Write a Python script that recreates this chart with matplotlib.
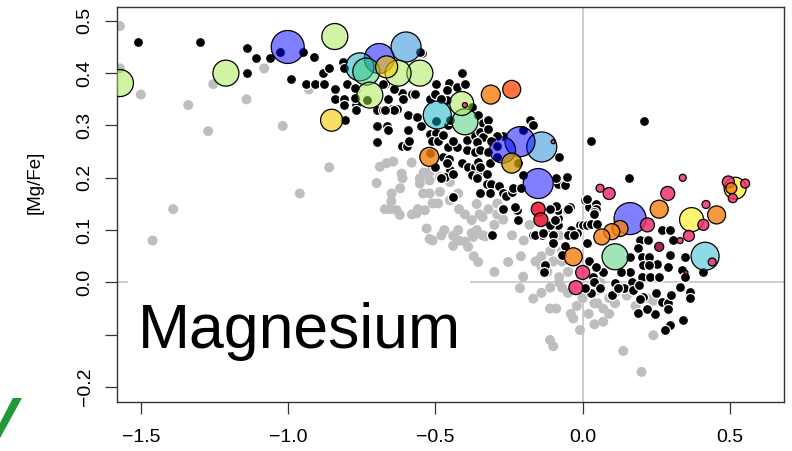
import numpy as np
import matplotlib.pyplot as plt

plt.rcParams['font.family'] = ['Liberation Sans', 'DejaVu Sans']

# --- data ---
gray_pts = [
    (-1.572, 0.490), (-1.572, 0.409), (-1.501, 0.359), (-1.340, 0.339), (-1.272, 0.289),
    (-1.255, 0.379), (-1.142, 0.350), (-1.082, 0.409), (-1.019, 0.299), (-0.930, 0.369),
    (-0.861, 0.220), (-0.961, 0.170), (-1.391, 0.140), (-1.461, 0.080),
    (-0.700, 0.190), (-0.672, 0.140), (-0.655, 0.140), (-0.689, 0.221), (-0.666, 0.228),
    (-0.644, 0.231), (-0.649, 0.170), (-0.650, 0.155), (-0.615, 0.208), (-0.620, 0.180),
    (-0.612, 0.199), (-0.581, 0.229), (-0.553, 0.199), (-0.553, 0.189), (-0.540, 0.210),
    (-0.542, 0.170), (-0.519, 0.211), (-0.520, 0.195), (-0.485, 0.202), (-0.451, 0.192),
    (-0.485, 0.173), (-0.520, 0.170), (-0.491, 0.151), (-0.510, 0.151), (-0.536, 0.138),
    (-0.564, 0.132), (-0.632, 0.138), (-0.621, 0.129), (-0.580, 0.130), (-0.560, 0.140),
    (-0.530, 0.103), (-0.520, 0.083), (-0.510, 0.080), (-0.480, 0.090), (-0.470, 0.100),
    (-0.440, 0.089), (-0.423, 0.100), (-0.451, 0.157), (-0.423, 0.170), (-0.440, 0.070),
    (-0.420, 0.080), (-0.400, 0.078), (-0.389, 0.068), (-0.377, 0.094), (-0.377, 0.119),
    (-0.360, 0.094), (-0.370, 0.050), (-0.355, 0.039), (-0.340, 0.090), (-0.300, 0.110),
    (-0.320, 0.140), (-0.270, 0.120), (-0.240, 0.090), (-0.200, 0.080), (-0.180, 0.110),
    (-0.253, 0.039), (-0.210, 0.050), (-0.202, 0.011), (-0.213, -0.011), (-0.168, -0.031),
    (-0.140, -0.020), (-0.110, -0.010), (-0.080, 0.000), (-0.111, -0.050), (-0.090, -0.050),
    (-0.032, -0.069), (-0.020, -0.045), (0.020, -0.060), (-0.009, -0.091), (0.040, -0.080),
    (-0.111, -0.110), (-0.100, -0.122), (-0.140, 0.030), (-0.100, 0.040), (-0.070, 0.040),
    (-0.050, 0.020), (-0.120, 0.020), (-0.080, 0.010), (-0.160, 0.040), (-0.140, 0.050),
    (-0.110, 0.060), (-0.050, -0.020), (0.010, -0.020), (-0.420, 0.140), (-0.400, 0.130),
    (-0.360, 0.100), (-0.330, 0.088), (-0.290, 0.130), (-0.350, 0.130), (-0.300, 0.020),
    (-0.070, -0.010), (-0.040, -0.060), (0.000, -0.030), (0.050, -0.040), (0.070, -0.050),
    (0.090, -0.030), (0.110, -0.020), (0.050, -0.015), (0.060, 0.000), (0.120, -0.005),
    (0.110, -0.040), (0.150, -0.025), (0.180, -0.045), (0.220, -0.030), (0.240, -0.035),
    (0.138, -0.131), (0.200, -0.171), (0.240, -0.101), (0.070, -0.075), (0.090, -0.060),
    (0.040, -0.040), (-0.080, 0.090), (-0.070, 0.060), (-0.030, 0.090), (-0.372, 0.087),
    (-0.340, 0.125), (-0.290, 0.151), (-0.360, 0.150),
]

black_pts = [
    (-1.510, 0.460), (-1.300, 0.460), (-1.142, 0.449), (-1.110, 0.428), (-1.142, 0.400),
    (-1.062, 0.428), (-1.028, 0.440), (-0.949, 0.440), (-0.912, 0.430), (-0.991, 0.389),
    (-0.940, 0.379), (-0.909, 0.380), (-0.879, 0.380), (-0.883, 0.400), (-0.861, 0.409),
    (-0.813, 0.422), (-0.810, 0.409), (-0.842, 0.369), (-0.841, 0.350), (-0.810, 0.350),
    (-0.810, 0.339), (-0.800, 0.380), (-0.771, 0.339), (-0.771, 0.369), (-0.770, 0.330),
    (-0.808, 0.310), (-0.700, 0.329), (-0.700, 0.299), (-0.700, 0.269), (-0.666, 0.299),
    (-0.661, 0.291), (-0.678, 0.329), (-0.663, 0.350), (-0.638, 0.329), (-0.672, 0.380),
    (-0.774, 0.371), (-0.774, 0.352), (-0.734, 0.349), (-0.649, 0.331), (-0.632, 0.331),
    (-0.661, 0.350), (-0.615, 0.363), (-0.610, 0.350), (-0.593, 0.320), (-0.564, 0.317),
    (-0.581, 0.361), (-0.593, 0.291), (-0.615, 0.261), (-0.598, 0.261), (-0.589, 0.271),
    (-0.550, 0.299), (-0.519, 0.284), (-0.498, 0.286), (-0.513, 0.271), (-0.490, 0.271),
    (-0.474, 0.282), (-0.457, 0.259), (-0.428, 0.259), (-0.440, 0.270), (-0.394, 0.272),
    (-0.394, 0.253), (-0.366, 0.250), (-0.366, 0.280), (-0.519, 0.248), (-0.476, 0.240),
    (-0.453, 0.235), (-0.411, 0.228), (-0.389, 0.221), (-0.366, 0.221), (-0.377, 0.205),
    (-0.355, 0.203), (-0.451, 0.215), (-0.468, 0.202), (-0.440, 0.164), (-0.480, 0.200),
    (-0.457, 0.301), (-0.450, 0.310), (-0.498, 0.309), (-0.411, 0.401), (-0.453, 0.382),
    (-0.428, 0.374), (-0.462, 0.368), (-0.400, 0.380), (-0.498, 0.379), (-0.519, 0.350),
    (-0.502, 0.360), (-0.462, 0.349), (-0.547, 0.438), (-0.640, 0.370), (-0.680, 0.380),
    (-0.640, 0.330), (-0.670, 0.330), (-0.570, 0.360), (-0.480, 0.350), (-0.553, 0.441),
    (-0.502, 0.220), (-0.462, 0.228), (-0.440, 0.208),
    (-0.377, 0.336), (-0.355, 0.320), (-0.338, 0.304), (-0.321, 0.310), (-0.349, 0.288),
    (-0.338, 0.278), (-0.321, 0.294), (-0.360, 0.269), (-0.349, 0.253), (-0.355, 0.231),
    (-0.350, 0.220), (-0.360, 0.199), (-0.326, 0.208), (-0.326, 0.189), (-0.310, 0.189),
    (-0.283, 0.184), (-0.315, 0.228), (-0.315, 0.170), (-0.350, 0.170), (-0.270, 0.171),
    (-0.260, 0.165), (-0.241, 0.173), (-0.235, 0.180), (-0.202, 0.205), (-0.210, 0.180),
    (-0.275, 0.141), (-0.224, 0.138), (-0.219, 0.119), (-0.309, 0.090), (-0.168, 0.090),
    (-0.139, 0.090), (-0.111, 0.100), (-0.100, 0.090), (-0.083, 0.110), (-0.083, 0.123),
    (-0.083, 0.138), (-0.090, 0.147), (-0.110, 0.140), (-0.054, 0.138), (-0.044, 0.145),
    (-0.083, 0.189), (-0.060, 0.186), (-0.054, 0.202), (-0.090, 0.200), (-0.079, 0.240),
    (-0.179, 0.310), (-0.202, 0.291), (-0.270, 0.280), (-0.290, 0.280), (-0.310, 0.270),
    (-0.290, 0.260), (-0.219, 0.228), (-0.320, 0.250), (-0.290, 0.240), (-0.009, 0.110),
    (0.000, 0.110), (-0.020, 0.095), (0.008, 0.157), (0.027, 0.270), (-0.040, 0.100),
    (0.015, 0.110), (0.020, 0.145), (0.209, 0.309), (0.159, 0.200), (0.014, 0.159),
    (0.045, 0.150), (0.044, 0.140), (-0.170, 0.300),
    (0.040, 0.135), (0.030, 0.112), (0.050, 0.112), (0.268, 0.100), (0.297, 0.100),
    (0.308, 0.081), (0.195, 0.081), (0.223, 0.081), (0.189, 0.065), (0.161, 0.049),
    (0.200, 0.049), (0.225, 0.049), (0.251, 0.036), (0.204, 0.033), (0.227, 0.033),
    (0.291, 0.030), (0.297, 0.052), (0.348, 0.049), (0.336, 0.024), (0.348, 0.010),
    (0.161, 0.020), (0.130, 0.020), (0.167, 0.000), (0.200, 0.010), (0.230, 0.010),
    (0.260, 0.010), (0.036, 0.011), (0.050, 0.030), (0.070, 0.020), (0.110, -0.002),
    (0.140, -0.010), (0.172, -0.015), (0.190, -0.005), (0.206, -0.027), (0.250, -0.020),
    (0.268, -0.037), (0.290, -0.040), (0.300, -0.025), (0.331, -0.008), (0.365, -0.018),
    (0.365, -0.030), (0.189, -0.059), (0.245, -0.060), (0.220, -0.050), (0.297, -0.082),
    (0.280, -0.090), (0.040, 0.000), (0.030, -0.020), (0.100, -0.025), (0.120, -0.010),
    (0.410, 0.020), (0.059, -0.011), (0.195, -0.031), (0.291, -0.050), (0.342, -0.071),
    (-0.270, 0.140), (-0.230, 0.145), (-0.162, 0.090), (-0.135, 0.095), (-0.110, 0.110),
    (-0.094, 0.119), (-0.050, 0.140), (-0.050, 0.090), (-0.030, 0.090), (-0.100, 0.075),
    (-0.060, 0.070), (-0.071, 0.052), (-0.128, 0.033), (-0.130, 0.020), (0.015, 0.075),
    (0.020, 0.040), (0.045, 0.030), (0.040, 0.130), (0.008, -0.011),
]

# coloured circles: position, relative size, group
bub_x = [-1.572, -1.212, -1.002, -0.842, -0.853, -0.600, -0.691, -0.757, -0.735, -0.666,
         -0.627, -0.553, -0.723, -0.494, -0.411, -0.400, -0.400, -0.521, -0.312, -0.241,
         -0.272, -0.213, -0.139, -0.100, -0.241, -0.151, -0.151, -0.142, -0.032, 0.000,
         -0.023, 0.161, 0.220, 0.260, 0.289, 0.340, 0.059, 0.090, 0.065, 0.099,
         0.127, 0.110, 0.260, 0.370, 0.410, 0.361, 0.331, 0.419, 0.455, 0.416,
         0.440, 0.351, 0.518, 0.495, 0.552, 0.510, 0.505]
bub_y = [0.381, 0.400, 0.450, 0.470, 0.310, 0.450, 0.428, 0.412, 0.403, 0.412,
         0.400, 0.400, 0.358, 0.320, 0.342, 0.307, 0.339, 0.240, 0.359, 0.369,
         0.253, 0.269, 0.259, 0.269, 0.228, 0.189, 0.140, 0.120, 0.049, 0.019,
         -0.010, 0.122, 0.110, 0.140, 0.170, 0.200, 0.180, 0.170, 0.087, 0.097,
         0.103, 0.049, 0.068, 0.120, 0.110, 0.089, 0.080, 0.149, 0.129, 0.050,
         0.039, 0.019, 0.180, 0.192, 0.189, 0.161, 0.180]
bub_n = [27, 26, 33, 26, 22, 30, 30, 28, 27, 22,
         26, 26, 26, 28, 24, 26, 5, 19, 19, 18,
         26, 30, 30, 4, 20, 30, 14, 14, 18, 14,
         14, 32, 14, 18, 14, 7, 8, 12, 16, 16,
         16, 26, 9, 24, 11, 11, 6, 8, 18, 28,
         8, 4, 22, 12, 9, 9, 11]
bub_group = ['lgreen', 'lgreen', 'blue', 'lgreen', 'gold', 'lblue', 'blue', 'teal', 'mint', 'gold',
             'lgreen', 'lgreen', 'lgreen', 'teal', 'lgreen', 'mint', 'pink', 'orange', 'orange', 'redorange',
             'blue', 'blue', 'lblue', 'pink', 'ochre', 'blue', 'red', 'red', 'orange', 'pink',
             'pink', 'blue', 'pink', 'orange', 'pink', 'pink', 'pink', 'pink', 'orange', 'orange',
             'orange', 'mint', 'darkred', 'yellow', 'pink', 'pink', 'pink', 'pink', 'orange', 'cyan',
             'pink', 'magenta', 'yellow', 'pink', 'pink', 'pink', 'orange']

group_style = {
    'blue': ('#0000ff', 0.5), 'lblue': ('#1987d7', 0.5), 'teal': ('#05afc3', 0.5),
    'cyan': ('#20b8cc', 0.5), 'lgreen': ('#a5eb4b', 0.5), 'mint': ('#41cd73', 0.5),
    'gold': ('#f5c800', 0.6), 'ochre': ('#d09a00', 0.75), 'yellow': ('#ffee10', 0.6),
    'orange': ('#f57f10', 0.8), 'redorange': ('#ff5a1e', 0.85), 'red': ('#e8102c', 0.85),
    'pink': ('#f0306e', 0.85), 'darkred': ('#a0103c', 0.9), 'magenta': ('#c0106a', 0.9),
}

W, H, DPI = 792, 451, 100
px2pt = 72.0 / DPI

fig = plt.figure(figsize=(W / DPI, H / DPI), dpi=DPI)
ax = fig.add_axes([116.7 / W, 1 - 401.7 / H, (784 - 116.7) / W, (401.7 - 6.7) / H])
ax.set_xlim(-1.583, 0.684)
ax.set_ylim(-0.228, 0.527)

# reference lines
ax.axvline(0, color='#c8c8c8', lw=1.3, zorder=0)
ax.hlines(0, -1.583, -1.545, color='#c8c8c8', lw=1.3, zorder=0)
ax.hlines(0, -0.383, 0.684, color='#c8c8c8', lw=1.3, zorder=0)

gx, gy = zip(*gray_pts)
ax.scatter(gx, gy, s=(10 * px2pt) ** 2, color='#bebebe', edgecolors='none', zorder=1)

bx, by = zip(*black_pts)
ax.scatter(bx, by, s=(10 * px2pt) ** 2, color='black', edgecolors='white', linewidths=0.9, zorder=2)

order = np.argsort(bub_n)[::-1]
for i in order:
    c, a = group_style[bub_group[i]]
    ax.scatter([bub_x[i]], [bub_y[i]], s=(bub_n[i] * px2pt) ** 2, facecolor=c, alpha=a,
               edgecolors='none', zorder=3)
    ax.scatter([bub_x[i]], [bub_y[i]], s=(bub_n[i] * px2pt) ** 2, facecolor='none',
               edgecolors='black', linewidths=0.9, zorder=3)

ax.set_xticks([-1.5, -1.0, -0.5, 0.0, 0.5])
ax.set_xticklabels(['\u22121.5', '\u22121.0', '\u22120.5', '0.0', '0.5'])
ax.set_yticks([-0.2, -0.1, 0.0, 0.1, 0.2, 0.3, 0.4, 0.5])
ax.set_yticklabels(['\u22120.2', '', '0.0', '0.1', '0.2', '0.3', '0.4', '0.5'])
for lab in ax.get_yticklabels():
    lab.set_rotation(90)
    lab.set_va('center')
ax.tick_params(axis='both', direction='out', length=8.6, width=0.9, color='#333333',
               labelsize=14)
ax.tick_params(axis='y', pad=8)
ax.tick_params(axis='x', pad=11)
for sp in ax.spines.values():
    sp.set_color('#333333')
    sp.set_linewidth(1.0)

fig.text(35 / W, 1 - 182 / H, '[Mg/Fe]', rotation=90, ha='center', va='center', fontsize=13.5)

ax.text(-1.511, -0.1256, 'Magnesium', fontsize=45, va='baseline', ha='left', zorder=5)

fig.text(18 / W, 1 - 396 / H, 'V', ha='right', va='top', fontsize=44, fontweight='bold',
         fontstyle='italic', color='#1f9a3a')

fig.savefig('out.png', dpi=DPI)
